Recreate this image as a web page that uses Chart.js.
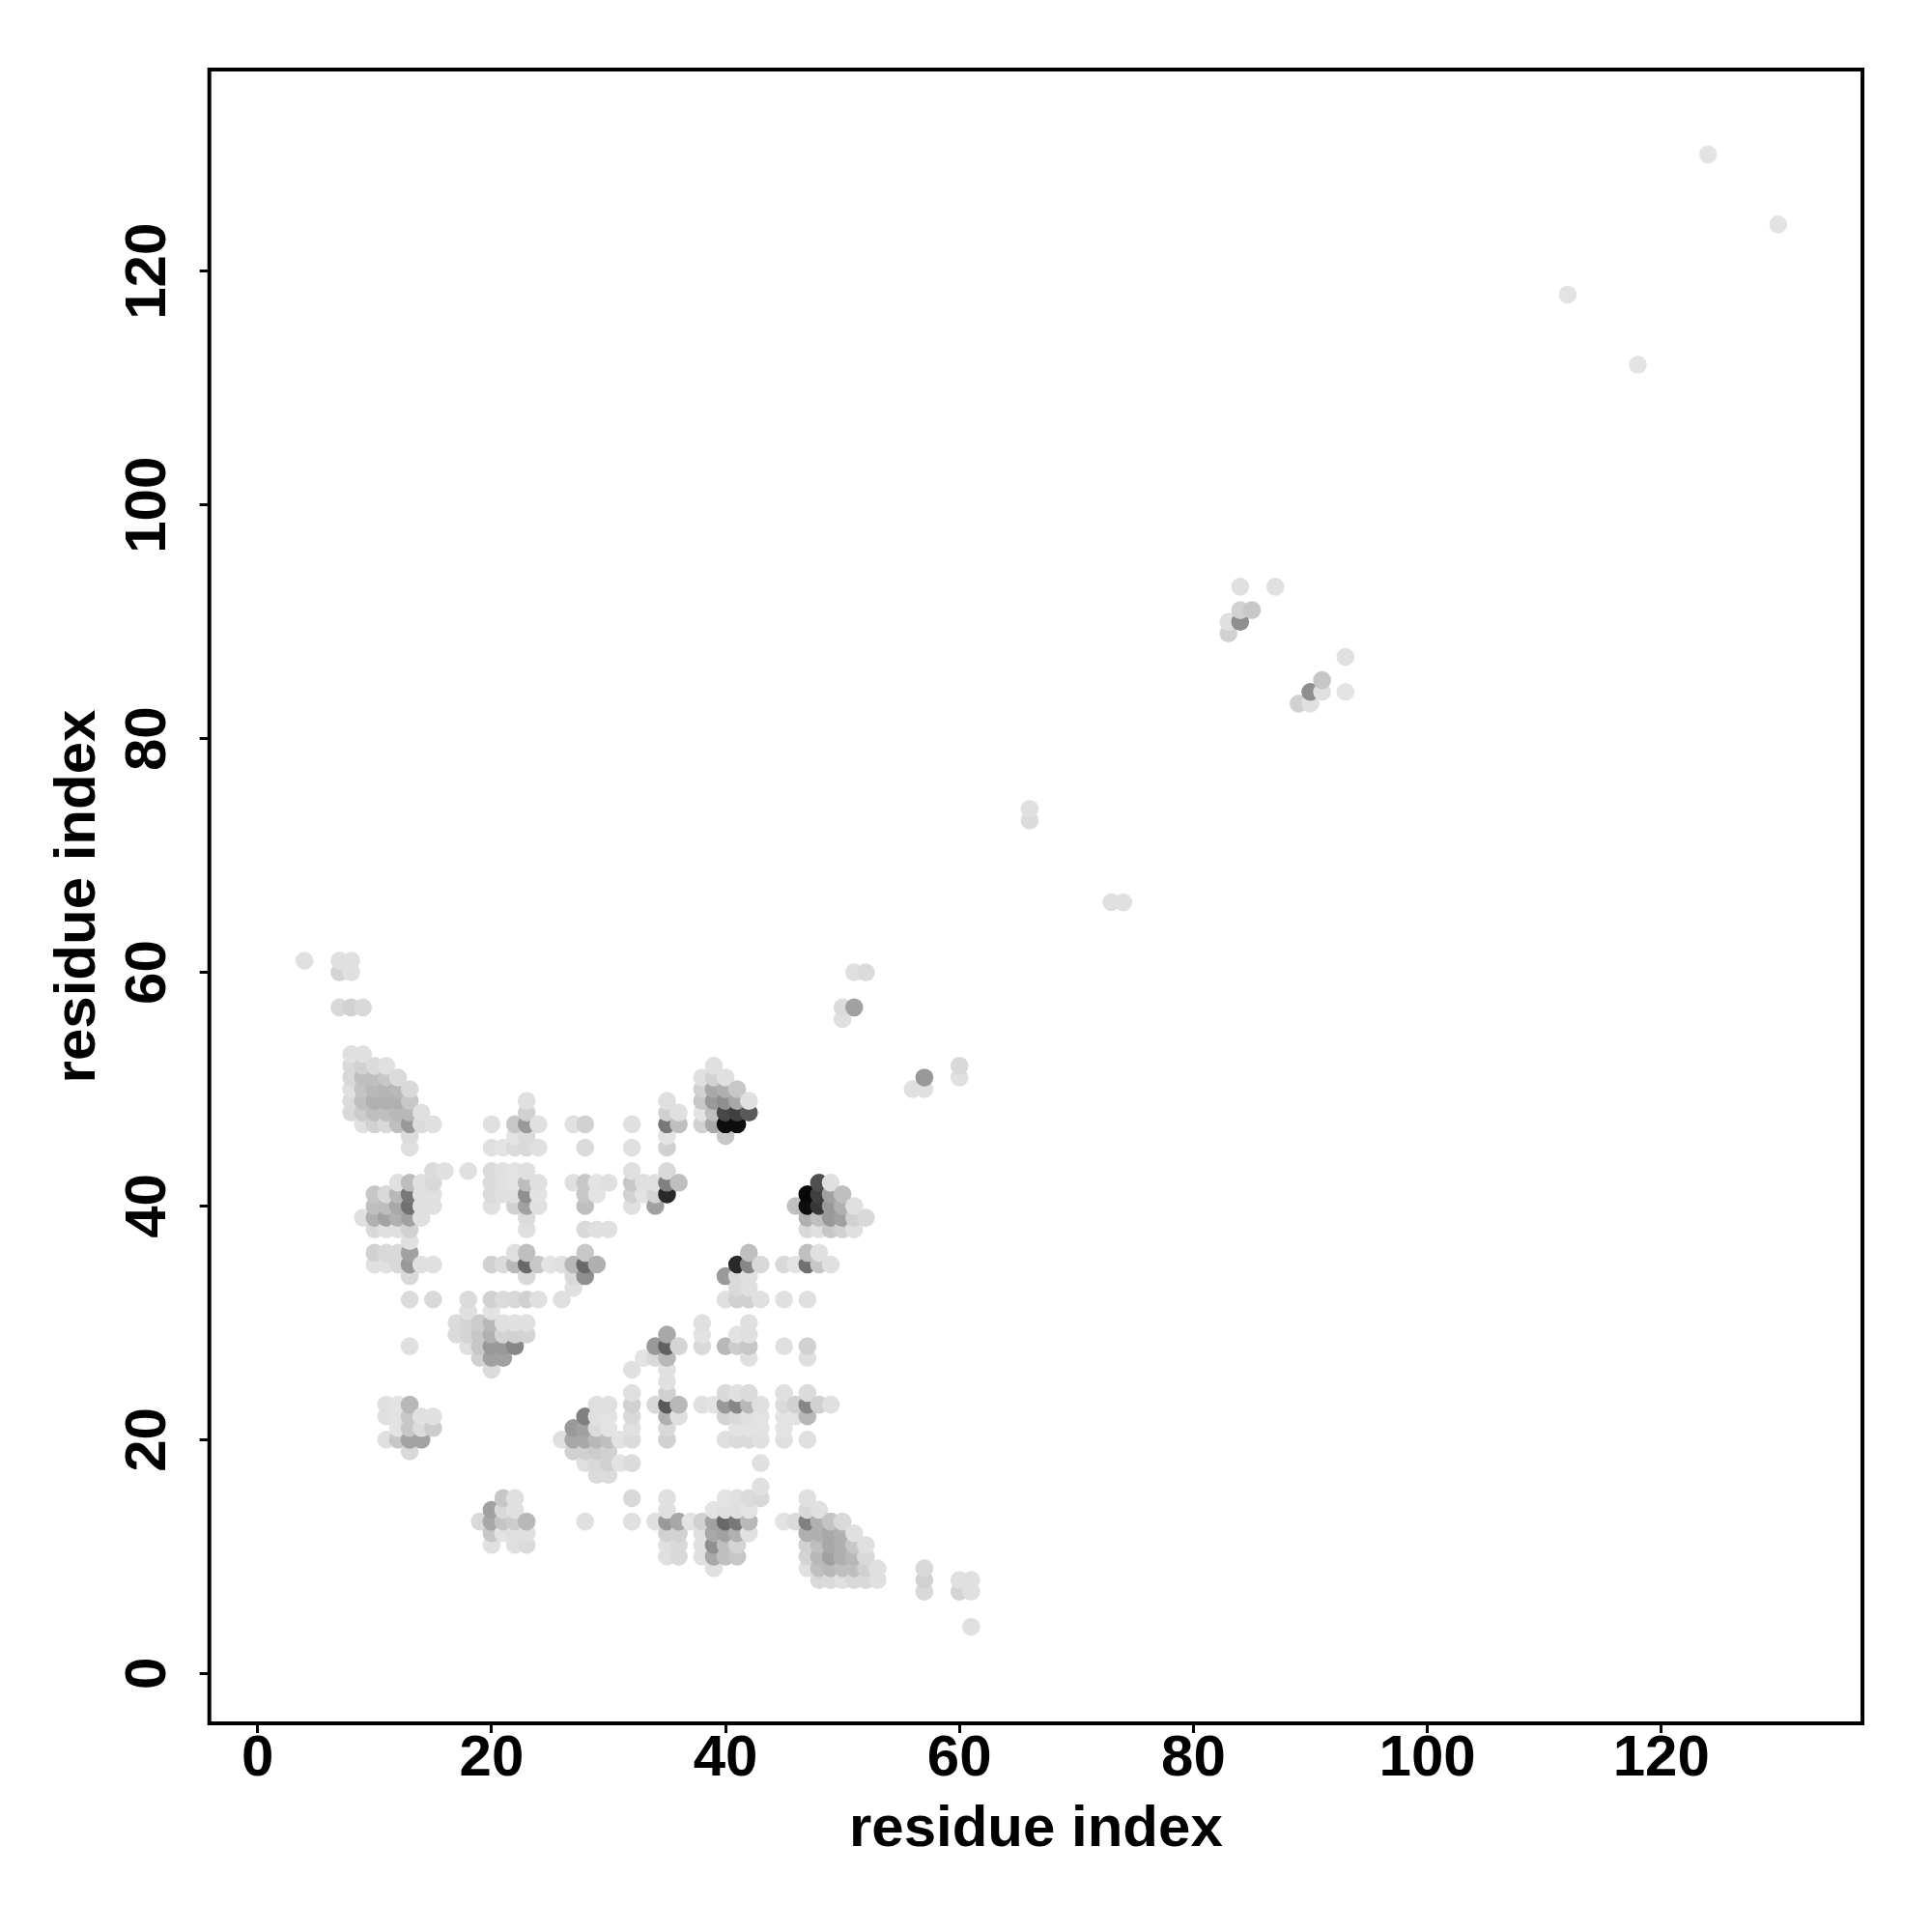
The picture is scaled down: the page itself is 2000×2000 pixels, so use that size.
<!DOCTYPE html>
<html>
<head>
<meta charset="utf-8">
<script src="https://cdn.jsdelivr.net/npm/chart.js@4"></script>
<style>
  html, body { margin: 0; padding: 0; background: #fff; }
  #wrap { width: 2000px; height: 2000px; }
</style>
</head>
<body>
<div id="wrap"><canvas id="myChart" width="2000" height="2000"></canvas></div>
<script>
const tickValues = [0, 20, 40, 60, 80, 100, 120];
const axisTitle = 'residue index';

// one entry per row of the map: y, then the x of each dot and its contact level (0-100)
const rowY = [130, 124, 118, 112, 93, 91, 90, 89, 87, 85, 84, 83, 74, 73, 66, 61, 60, 57, 56, 53, 52, 51, 50, 49, 48, 47, 46, 45, 43, 42, 41, 40, 39, 38, 37, 36, 35, 34, 33, 32, 31, 30, 29, 28, 27, 26, 25, 24, 23, 22, 21, 20, 19, 18, 17, 16, 15, 14, 13, 12, 11, 10, 9, 8, 7, 4];

const rowX = [
  [124], [130], [112], [118],
  [84, 87],
  [84, 85],
  [83, 84],
  [83],
  [93],
  [91],
  [90, 91, 93],
  [89, 90],
  [66],
  [66],
  [73, 74],
  [4, 7, 8],
  [7, 8, 51, 52],
  [7, 8, 9, 50, 51],
  [50],
  [8, 9],
  [8, 9, 10, 11, 39, 60],
  [8, 9, 10, 11, 12, 38, 39, 40, 57, 60],
  [8, 9, 10, 11, 12, 13, 38, 39, 40, 41, 56, 57],
  [8, 9, 10, 11, 12, 13, 23, 35, 38, 39, 40, 41, 42],
  [8, 9, 10, 11, 12, 13, 14, 23, 35, 36, 38, 39, 40, 41, 42],
  [9, 10, 11, 12, 13, 14, 15, 20, 22, 23, 24, 27, 28, 32, 35, 36, 38, 39, 40, 41],
  [13, 22, 23, 35, 40],
  [13, 20, 21, 22, 23, 24, 28, 32, 35],
  [15, 16, 18, 20, 21, 22, 23, 32, 35],
  [12, 13, 14, 15, 20, 21, 22, 23, 24, 27, 28, 29, 30, 32, 33, 34, 35, 36, 48, 49],
  [10, 11, 12, 13, 14, 15, 20, 21, 22, 23, 24, 28, 29, 32, 33, 34, 35, 47, 48, 49, 50],
  [10, 11, 12, 13, 14, 15, 20, 22, 23, 24, 28, 32, 34, 46, 47, 48, 49, 50, 51],
  [9, 10, 11, 12, 13, 14, 23, 47, 48, 49, 50, 51, 52],
  [10, 11, 12, 13, 23, 28, 29, 30, 47, 48, 49, 50, 51],
  [13],
  [10, 11, 12, 13, 22, 23, 28, 42, 47, 48],
  [10, 11, 12, 13, 14, 15, 20, 21, 22, 23, 24, 25, 26, 27, 28, 29, 41, 42, 43, 45, 46, 47, 48, 49],
  [13, 23, 27, 28, 40, 41, 42],
  [27, 41, 42],
  [13, 15, 18, 20, 21, 22, 23, 24, 26, 40, 41, 42, 43, 45, 47],
  [18, 20],
  [17, 18, 19, 20, 21, 22, 23, 38, 42],
  [17, 18, 19, 20, 21, 22, 23, 35, 38, 41, 42],
  [13, 18, 19, 20, 21, 22, 34, 35, 36, 38, 40, 41, 42, 45, 47],
  [19, 20, 21, 33, 34, 35, 42, 47],
  [20, 32, 35],
  [35],
  [32, 35, 40, 41, 42, 45, 47],
  [11, 12, 13, 29, 30, 32, 34, 35, 36, 38, 39, 40, 41, 42, 43, 45, 46, 47, 48, 49],
  [11, 12, 13, 14, 15, 28, 29, 30, 32, 35, 36, 40, 41, 42, 43, 45, 46, 47],
  [12, 13, 14, 15, 27, 28, 29, 30, 32, 35, 41, 42, 43, 45],
  [11, 12, 13, 14, 26, 27, 28, 29, 30, 31, 32, 35, 40, 41, 42, 43, 45, 47],
  [13, 27, 28, 29, 30],
  [28, 29, 30, 31, 32, 43],
  [29, 30],
  [43],
  [21, 22, 32, 35, 40, 41, 42, 43, 47],
  [20, 21, 22, 35, 39, 40, 41, 42, 47, 48],
  [19, 20, 21, 22, 23, 28, 32, 34, 35, 36, 37, 38, 39, 40, 41, 42, 45, 46, 47, 48, 49, 50],
  [20, 21, 22, 23, 35, 36, 38, 39, 40, 41, 42, 47, 48, 49, 50, 51],
  [20, 22, 23, 35, 36, 38, 39, 40, 41, 47, 48, 49, 50, 51, 52],
  [35, 36, 38, 39, 40, 41, 47, 48, 49, 50, 51, 52],
  [39, 47, 48, 49, 50, 51, 52, 53, 57],
  [48, 49, 50, 51, 52, 53, 57, 60, 61],
  [57, 60, 61],
  [61]
];

const rowLevel = [
  [11], [11], [11], [11],
  [12, 12],
  [18, 22],
  [12, 44],
  [18],
  [12],
  [22],
  [44, 12, 11],
  [18, 12],
  [12],
  [14],
  [12, 12],
  [12, 12, 12],
  [17, 12, 12, 14],
  [15, 18, 15, 14, 37],
  [12],
  [12, 12],
  [15, 18, 14, 12, 12, 15],
  [15, 25, 25, 22, 14, 12, 18, 12, 40, 12],
  [12, 23, 28, 29, 28, 15, 18, 34, 31, 22, 12, 12],
  [14, 25, 31, 31, 31, 22, 12, 12, 22, 40, 44, 34, 12],
  [15, 20, 25, 25, 28, 28, 12, 18, 18, 12, 11, 25, 72, 75, 65],
  [12, 18, 15, 25, 40, 14, 12, 12, 22, 40, 12, 12, 18, 12, 53, 25, 18, 34, 95, 95],
  [14, 11, 14, 11, 22],
  [12, 12, 11, 14, 15, 12, 14, 12, 18],
  [14, 12, 12, 14, 12, 11, 12, 12, 15],
  [12, 26, 12, 15, 14, 12, 11, 26, 12, 12, 22, 11, 12, 22, 12, 12, 50, 25, 69, 12],
  [22, 15, 28, 53, 12, 12, 14, 12, 12, 44, 11, 22, 11, 18, 11, 17, 84, 97, 75, 37, 25],
  [25, 26, 34, 56, 12, 12, 12, 18, 37, 12, 25, 12, 37, 25, 95, 78, 40, 31, 12],
  [12, 31, 36, 31, 37, 12, 14, 31, 25, 40, 37, 18, 15],
  [15, 12, 12, 18, 12, 15, 12, 12, 15, 12, 22, 18, 12],
  [12],
  [18, 15, 15, 37, 12, 25, 22, 25, 25, 12],
  [12, 12, 15, 40, 12, 12, 18, 14, 28, 59, 22, 11, 12, 28, 59, 31, 84, 47, 15, 15, 11, 56, 22, 12],
  [15, 15, 15, 44, 40, 15, 12],
  [12, 15, 12],
  [14, 15, 14, 18, 14, 15, 18, 12, 12, 12, 18, 18, 12, 12, 12],
  [12, 11],
  [14, 17, 20, 28, 12, 12, 12, 12, 12],
  [14, 17, 22, 31, 17, 18, 17, 34, 11, 11, 12],
  [12, 12, 22, 40, 40, 47, 40, 62, 17, 15, 28, 20, 22, 12, 18],
  [18, 37, 37, 11, 15, 28, 12, 12],
  [14, 12, 12],
  [12],
  [12, 18, 15, 12, 14, 12, 14],
  [12, 11, 28, 12, 12, 18, 15, 65, 28, 12, 11, 40, 47, 28, 12, 14, 18, 47, 18, 12],
  [12, 11, 22, 12, 12, 50, 12, 11, 15, 31, 12, 17, 15, 12, 11, 11, 11, 28],
  [11, 22, 14, 20, 40, 37, 14, 11, 12, 15, 11, 11, 11, 11],
  [12, 22, 36, 36, 12, 34, 34, 28, 25, 11, 14, 18, 12, 14, 14, 12, 12, 12],
  [15, 18, 18, 20, 18],
  [12, 15, 18, 11, 14, 12],
  [14, 14],
  [12],
  [22, 12, 15, 12, 11, 12, 14, 15, 12],
  [37, 15, 12, 12, 11, 12, 12, 11, 15, 12],
  [15, 34, 23, 20, 28, 12, 12, 12, 40, 34, 11, 18, 37, 59, 53, 28, 11, 14, 50, 31, 23, 15],
  [22, 11, 12, 12, 18, 18, 12, 34, 37, 31, 12, 31, 31, 34, 31, 12],
  [12, 12, 14, 12, 15, 12, 44, 25, 17, 18, 25, 34, 31, 22, 12],
  [12, 15, 12, 34, 25, 22, 17, 28, 37, 31, 28, 15],
  [12, 12, 25, 28, 25, 25, 18, 12, 15],
  [15, 14, 12, 15, 15, 12, 18, 12, 12],
  [15, 17, 12],
  [12]
];

// R draws them by x then y, later dots sit on top
const dots = [];
rowY.forEach((y, r) => {
  rowX[r].forEach((x, c) => dots.push({ x: x, y: y, level: rowLevel[r][c] }));
});
dots.sort((a, b) => a.x - b.x || a.y - b.y);

function shade(level) {
  const g = Math.round(255 * (1 - level / 100));
  return 'rgb(' + g + ',' + g + ',' + g + ')';
}

const frame = {
  id: 'frame',
  afterDraw(chart) {
    const a = chart.chartArea;
    const c = chart.ctx;
    c.save();
    c.strokeStyle = '#000';
    c.lineWidth = 4;
    c.strokeRect(a.left, a.top, a.right - a.left, a.bottom - a.top);
    c.restore();
  }
};

const tickFont = { family: '"Liberation Sans"', weight: 'bold', size: 60 };
const titleFont = { family: '"Liberation Sans"', weight: 'bold', size: 60 };

new Chart(document.getElementById('myChart'), {
  type: 'scatter',
  data: {
    datasets: [{
      data: dots,
      showLine: false,
      pointRadius: 9.3,
      pointHoverRadius: 9.3,
      pointBorderWidth: 0,
      pointBackgroundColor: dots.map(d => shade(d.level))
    }]
  },
  plugins: [frame],
  options: {
    responsive: false,
    animation: false,
    layout: { padding: { top: 72, right: 72, left: 0, bottom: 0 } },
    plugins: { legend: { display: false }, tooltip: { enabled: false } },
    scales: {
      x: {
        type: 'linear',
        min: -4.13,
        max: 137.2,
        afterBuildTicks: s => { s.ticks = tickValues.map(v => ({ value: v })); },
        afterFit: s => { s.height = 216; },
        border: { display: false },
        grid: { drawOnChartArea: false, tickLength: 10, tickWidth: 3, tickColor: '#000' },
        ticks: { color: '#000', font: tickFont, padding: -9, maxRotation: 0, autoSkip: false },
        title: { display: true, text: axisTitle, color: '#000', font: titleFont, padding: { top: 0, bottom: 70 } }
      },
      y: {
        type: 'linear',
        min: -4.27,
        max: 137.26,
        afterBuildTicks: s => { s.ticks = tickValues.map(v => ({ value: v })); },
        afterFit: s => { s.width = 216.7; },
        border: { display: false },
        grid: { drawOnChartArea: false, tickLength: 10, tickWidth: 3, tickColor: '#000' },
        ticks: { color: '#000', font: tickFont, padding: 2, minRotation: 90, maxRotation: 90, crossAlign: 'center', autoSkip: false },
        title: { display: true, text: axisTitle, color: '#000', font: titleFont, padding: { top: 45, bottom: 0 } }
      }
    }
  }
});
</script>
</body>
</html>
